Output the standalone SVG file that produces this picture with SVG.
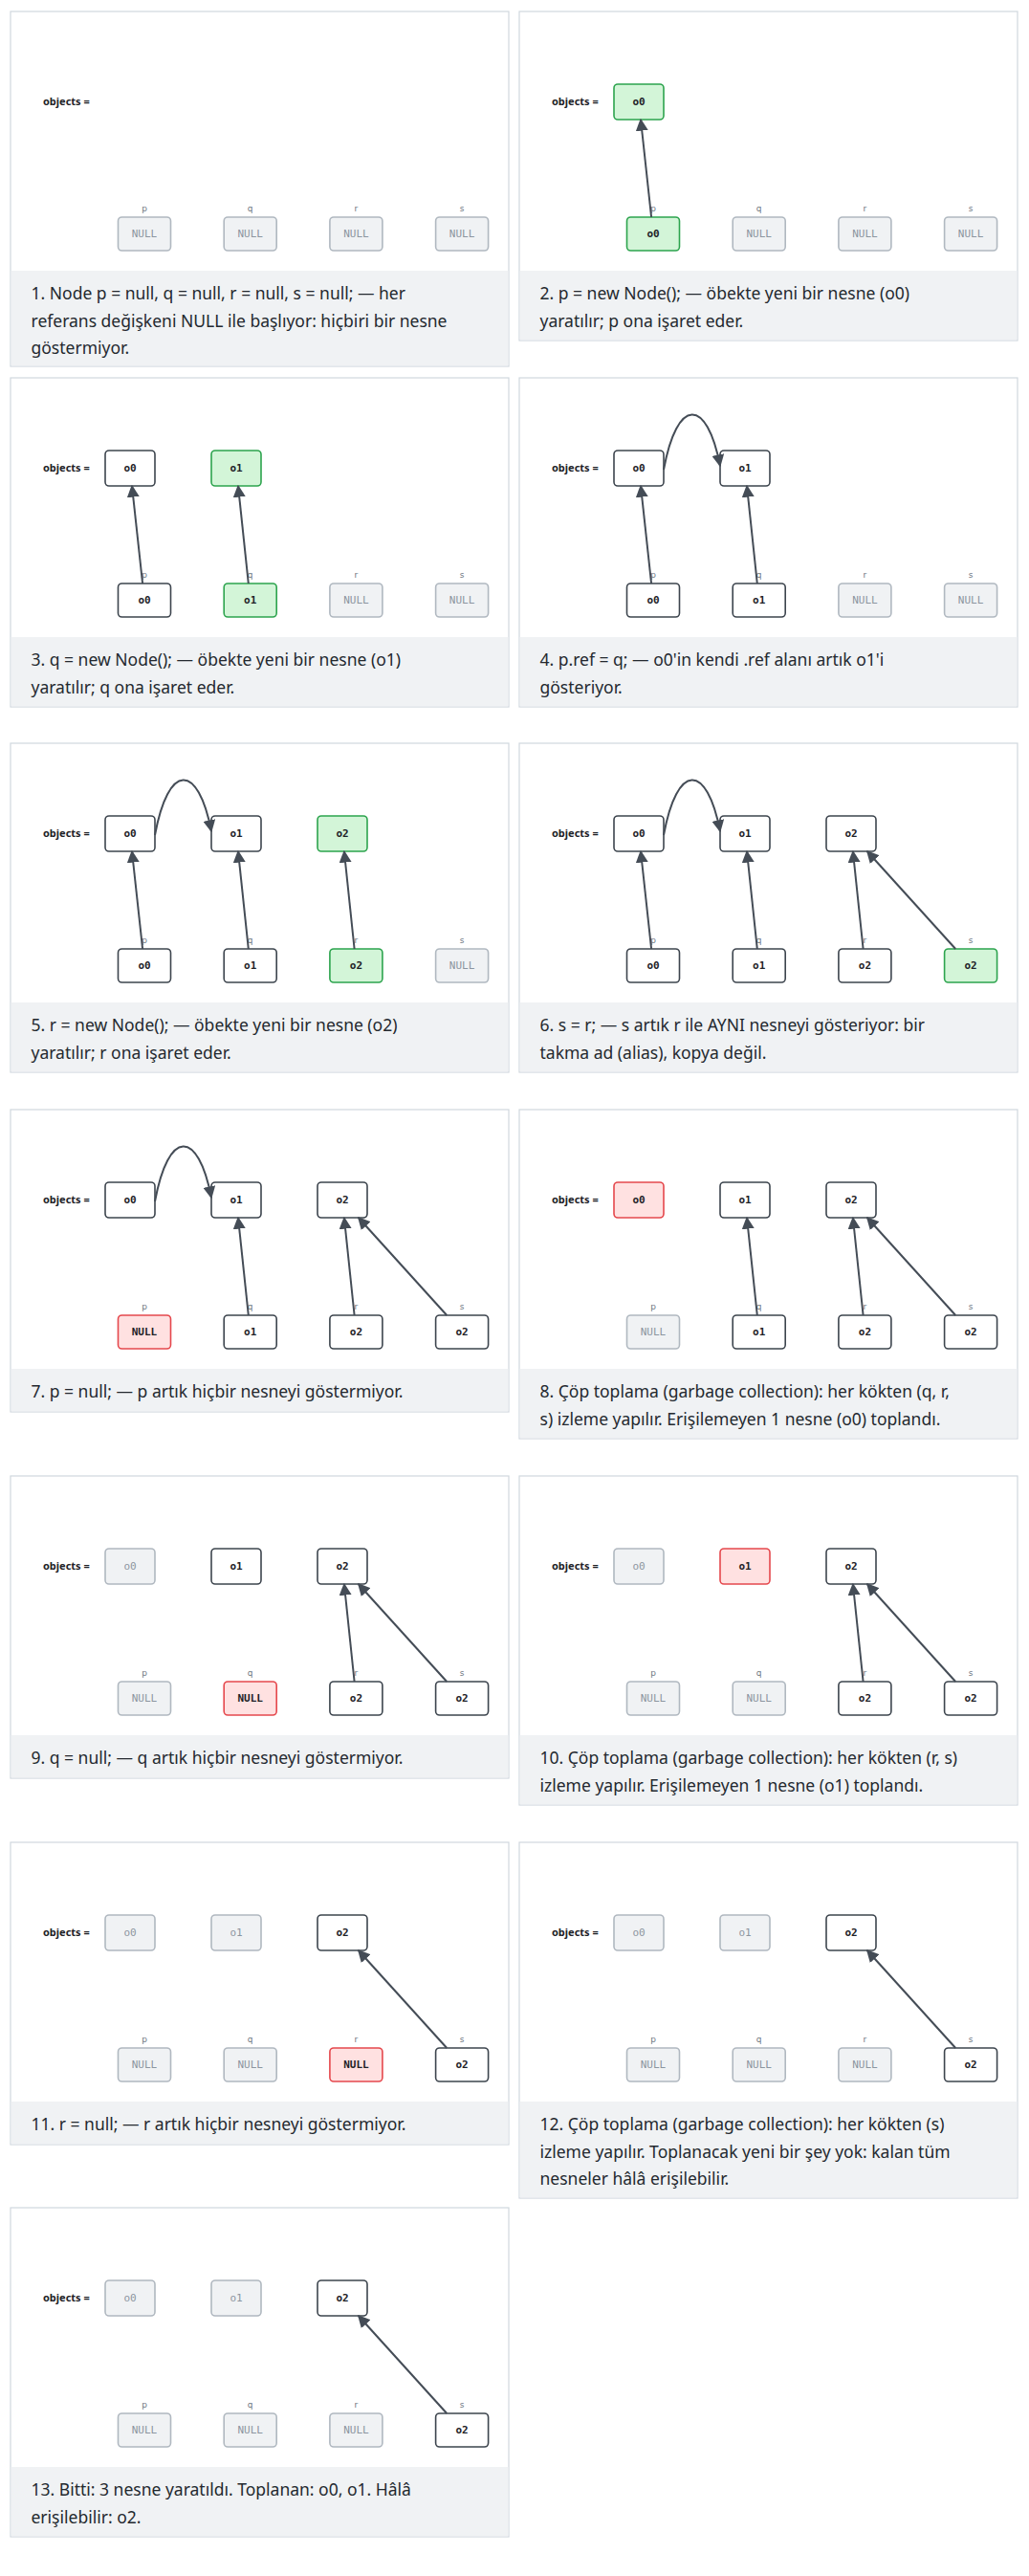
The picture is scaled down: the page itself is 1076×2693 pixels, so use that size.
<svg xmlns="http://www.w3.org/2000/svg" width="1076" height="2693" viewBox="0 0 1076 2693">
<style>
.pn{fill:#fff;stroke:#d0d7de;stroke-width:1.2}
.cap{fill:#f0f2f4}
.ct{font-family:"Noto Sans","Open Sans",sans-serif;font-size:17.5px;fill:#24292f}
.obj{font-family:"Noto Sans","DejaVu Sans",sans-serif;font-size:11px;font-weight:bold;fill:#1f2328}
.lb{font-family:"DejaVu Sans",sans-serif;font-size:9px;fill:#6e7781;text-anchor:middle}
.bx{fill:#fff;stroke:#3d454e;stroke-width:1.6}
.bn{fill:#d3f5d8;stroke:#2da44e;stroke-width:1.6}
.bd{fill:#ffe1e1;stroke:#e5484d;stroke-width:1.6}
.bg{fill:#f0f2f4;stroke:#b0b8c0;stroke-width:1.6}
.t{font-family:"DejaVu Sans Mono",monospace;font-size:11px;font-weight:bold;fill:#1f2328;text-anchor:middle}
.tg{font-family:"DejaVu Sans Mono",monospace;font-size:11px;fill:#8c959f;text-anchor:middle}
.ar{fill:none;stroke:#444c56;stroke-width:2;marker-end:url(#ah)}
</style>
<defs>
<marker id="ah" viewBox="0 0 10 10" refX="9" refY="5" markerWidth="13" markerHeight="13" markerUnits="userSpaceOnUse" orient="auto"><path d="M0,0L10,5L0,10z" fill="#444c56"/></marker>
</defs>

<g id="panel1" transform="translate(11,12)">
<rect class="pn" width="521" height="371"/><rect class="cap" x="0.6" y="271" width="519.8" height="99.4"/>
<text class="obj" x="34" y="98">objects =</text>
<g id="p1-p"><text class="lb" x="140" y="209">p</text><rect class="bg" x="112.5" y="215" width="55" height="35" rx="4"/><text class="tg" x="140" y="236">NULL</text></g>
<g id="p1-q"><text class="lb" x="250.7" y="209">q</text><rect class="bg" x="223.2" y="215" width="55" height="35" rx="4"/><text class="tg" x="250.7" y="236">NULL</text></g>
<g id="p1-r"><text class="lb" x="361.4" y="209">r</text><rect class="bg" x="333.9" y="215" width="55" height="35" rx="4"/><text class="tg" x="361.4" y="236">NULL</text></g>
<g id="p1-s"><text class="lb" x="472.1" y="209">s</text><rect class="bg" x="444.6" y="215" width="55" height="35" rx="4"/><text class="tg" x="472.1" y="236">NULL</text></g>
<text class="ct" x="21.5" y="301">1. Node p = null, q = null, r = null, s = null; — her</text>
<text class="ct" x="21.5" y="329.5">referans değişkeni NULL ile başlıyor: hiçbiri bir nesne</text>
<text class="ct" x="21.5" y="358">göstermiyor.</text>
</g>

<g id="panel2" transform="translate(543,12)">
<rect class="pn" width="521" height="344"/><rect class="cap" x="0.6" y="271" width="519.8" height="72.4"/>
<text class="obj" x="34" y="98">objects =</text>
<g id="p2-o0"><rect class="bn" x="99" y="76" width="52" height="37" rx="4"/><text class="t" x="125" y="98">o0</text></g>
<g id="p2-p"><text class="lb" x="140" y="209">p</text><rect class="bn" x="112.5" y="215" width="55" height="35" rx="4"/><text class="t" x="140" y="236">o0</text></g>
<g id="p2-q"><text class="lb" x="250.7" y="209">q</text><rect class="bg" x="223.2" y="215" width="55" height="35" rx="4"/><text class="tg" x="250.7" y="236">NULL</text></g>
<g id="p2-r"><text class="lb" x="361.4" y="209">r</text><rect class="bg" x="333.9" y="215" width="55" height="35" rx="4"/><text class="tg" x="361.4" y="236">NULL</text></g>
<g id="p2-s"><text class="lb" x="472.1" y="209">s</text><rect class="bg" x="444.6" y="215" width="55" height="35" rx="4"/><text class="tg" x="472.1" y="236">NULL</text></g>
<g id="p2-edges"><path class="ar" d="M138.1,215L127,113"/></g>
<text class="ct" x="21.5" y="301">2. p = new Node(); — öbekte yeni bir nesne (o0)</text>
<text class="ct" x="21.5" y="329.5">yaratılır; p ona işaret eder.</text>
</g>

<g id="panel3" transform="translate(11,395)">
<rect class="pn" width="521" height="344"/><rect class="cap" x="0.6" y="271" width="519.8" height="72.4"/>
<text class="obj" x="34" y="98">objects =</text>
<g id="p3-o0"><rect class="bx" x="99" y="76" width="52" height="37" rx="4"/><text class="t" x="125" y="98">o0</text></g>
<g id="p3-o1"><rect class="bn" x="210" y="76" width="52" height="37" rx="4"/><text class="t" x="236" y="98">o1</text></g>
<g id="p3-p"><text class="lb" x="140" y="209">p</text><rect class="bx" x="112.5" y="215" width="55" height="35" rx="4"/><text class="t" x="140" y="236">o0</text></g>
<g id="p3-q"><text class="lb" x="250.7" y="209">q</text><rect class="bn" x="223.2" y="215" width="55" height="35" rx="4"/><text class="t" x="250.7" y="236">o1</text></g>
<g id="p3-r"><text class="lb" x="361.4" y="209">r</text><rect class="bg" x="333.9" y="215" width="55" height="35" rx="4"/><text class="tg" x="361.4" y="236">NULL</text></g>
<g id="p3-s"><text class="lb" x="472.1" y="209">s</text><rect class="bg" x="444.6" y="215" width="55" height="35" rx="4"/><text class="tg" x="472.1" y="236">NULL</text></g>
<g id="p3-edges"><path class="ar" d="M138.1,215L127,113"/><path class="ar" d="M248.8,215L238,113"/></g>
<text class="ct" x="21.5" y="301">3. q = new Node(); — öbekte yeni bir nesne (o1)</text>
<text class="ct" x="21.5" y="329.5">yaratılır; q ona işaret eder.</text>
</g>

<g id="panel4" transform="translate(543,395)">
<rect class="pn" width="521" height="344"/><rect class="cap" x="0.6" y="271" width="519.8" height="72.4"/>
<text class="obj" x="34" y="98">objects =</text>
<g id="p4-o0"><rect class="bx" x="99" y="76" width="52" height="37" rx="4"/><text class="t" x="125" y="98">o0</text></g>
<g id="p4-o1"><rect class="bx" x="210" y="76" width="52" height="37" rx="4"/><text class="t" x="236" y="98">o1</text></g>
<g id="p4-p"><text class="lb" x="140" y="209">p</text><rect class="bx" x="112.5" y="215" width="55" height="35" rx="4"/><text class="t" x="140" y="236">o0</text></g>
<g id="p4-q"><text class="lb" x="250.7" y="209">q</text><rect class="bx" x="223.2" y="215" width="55" height="35" rx="4"/><text class="t" x="250.7" y="236">o1</text></g>
<g id="p4-r"><text class="lb" x="361.4" y="209">r</text><rect class="bg" x="333.9" y="215" width="55" height="35" rx="4"/><text class="tg" x="361.4" y="236">NULL</text></g>
<g id="p4-s"><text class="lb" x="472.1" y="209">s</text><rect class="bg" x="444.6" y="215" width="55" height="35" rx="4"/><text class="tg" x="472.1" y="236">NULL</text></g>
<g id="p4-edges"><path class="ar" d="M138.1,215L127,113"/><path class="ar" d="M248.8,215L238,113"/><path class="ar" d="M151,96C165,20 196,20 210,92"/></g>
<text class="ct" x="21.5" y="301">4. p.ref = q; — o0'in kendi .ref alanı artık o1'i</text>
<text class="ct" x="21.5" y="329.5">gösteriyor.</text>
</g>

<g id="panel5" transform="translate(11,777)">
<rect class="pn" width="521" height="344"/><rect class="cap" x="0.6" y="271" width="519.8" height="72.4"/>
<text class="obj" x="34" y="98">objects =</text>
<g id="p5-o0"><rect class="bx" x="99" y="76" width="52" height="37" rx="4"/><text class="t" x="125" y="98">o0</text></g>
<g id="p5-o1"><rect class="bx" x="210" y="76" width="52" height="37" rx="4"/><text class="t" x="236" y="98">o1</text></g>
<g id="p5-o2"><rect class="bn" x="321" y="76" width="52" height="37" rx="4"/><text class="t" x="347" y="98">o2</text></g>
<g id="p5-p"><text class="lb" x="140" y="209">p</text><rect class="bx" x="112.5" y="215" width="55" height="35" rx="4"/><text class="t" x="140" y="236">o0</text></g>
<g id="p5-q"><text class="lb" x="250.7" y="209">q</text><rect class="bx" x="223.2" y="215" width="55" height="35" rx="4"/><text class="t" x="250.7" y="236">o1</text></g>
<g id="p5-r"><text class="lb" x="361.4" y="209">r</text><rect class="bn" x="333.9" y="215" width="55" height="35" rx="4"/><text class="t" x="361.4" y="236">o2</text></g>
<g id="p5-s"><text class="lb" x="472.1" y="209">s</text><rect class="bg" x="444.6" y="215" width="55" height="35" rx="4"/><text class="tg" x="472.1" y="236">NULL</text></g>
<g id="p5-edges"><path class="ar" d="M138.1,215L127,113"/><path class="ar" d="M248.8,215L238,113"/><path class="ar" d="M359.6,215L348.9,113"/><path class="ar" d="M151,96C165,20 196,20 210,92"/></g>
<text class="ct" x="21.5" y="301">5. r = new Node(); — öbekte yeni bir nesne (o2)</text>
<text class="ct" x="21.5" y="329.5">yaratılır; r ona işaret eder.</text>
</g>

<g id="panel6" transform="translate(543,777)">
<rect class="pn" width="521" height="344"/><rect class="cap" x="0.6" y="271" width="519.8" height="72.4"/>
<text class="obj" x="34" y="98">objects =</text>
<g id="p6-o0"><rect class="bx" x="99" y="76" width="52" height="37" rx="4"/><text class="t" x="125" y="98">o0</text></g>
<g id="p6-o1"><rect class="bx" x="210" y="76" width="52" height="37" rx="4"/><text class="t" x="236" y="98">o1</text></g>
<g id="p6-o2"><rect class="bx" x="321" y="76" width="52" height="37" rx="4"/><text class="t" x="347" y="98">o2</text></g>
<g id="p6-p"><text class="lb" x="140" y="209">p</text><rect class="bx" x="112.5" y="215" width="55" height="35" rx="4"/><text class="t" x="140" y="236">o0</text></g>
<g id="p6-q"><text class="lb" x="250.7" y="209">q</text><rect class="bx" x="223.2" y="215" width="55" height="35" rx="4"/><text class="t" x="250.7" y="236">o1</text></g>
<g id="p6-r"><text class="lb" x="361.4" y="209">r</text><rect class="bx" x="333.9" y="215" width="55" height="35" rx="4"/><text class="t" x="361.4" y="236">o2</text></g>
<g id="p6-s"><text class="lb" x="472.1" y="209">s</text><rect class="bn" x="444.6" y="215" width="55" height="35" rx="4"/><text class="t" x="472.1" y="236">o2</text></g>
<g id="p6-edges"><path class="ar" d="M138.1,215L127,113"/><path class="ar" d="M248.8,215L238,113"/><path class="ar" d="M359.6,215L348.9,113"/><path class="ar" d="M456.2,215L363.8,113"/><path class="ar" d="M151,96C165,20 196,20 210,92"/></g>
<text class="ct" x="21.5" y="301">6. s = r; — s artık r ile AYNI nesneyi gösteriyor: bir</text>
<text class="ct" x="21.5" y="329.5">takma ad (alias), kopya değil.</text>
</g>

<g id="panel7" transform="translate(11,1160)">
<rect class="pn" width="521" height="316"/><rect class="cap" x="0.6" y="271" width="519.8" height="44.4"/>
<text class="obj" x="34" y="98">objects =</text>
<g id="p7-o0"><rect class="bx" x="99" y="76" width="52" height="37" rx="4"/><text class="t" x="125" y="98">o0</text></g>
<g id="p7-o1"><rect class="bx" x="210" y="76" width="52" height="37" rx="4"/><text class="t" x="236" y="98">o1</text></g>
<g id="p7-o2"><rect class="bx" x="321" y="76" width="52" height="37" rx="4"/><text class="t" x="347" y="98">o2</text></g>
<g id="p7-p"><text class="lb" x="140" y="209">p</text><rect class="bd" x="112.5" y="215" width="55" height="35" rx="4"/><text class="t" x="140" y="236">NULL</text></g>
<g id="p7-q"><text class="lb" x="250.7" y="209">q</text><rect class="bx" x="223.2" y="215" width="55" height="35" rx="4"/><text class="t" x="250.7" y="236">o1</text></g>
<g id="p7-r"><text class="lb" x="361.4" y="209">r</text><rect class="bx" x="333.9" y="215" width="55" height="35" rx="4"/><text class="t" x="361.4" y="236">o2</text></g>
<g id="p7-s"><text class="lb" x="472.1" y="209">s</text><rect class="bx" x="444.6" y="215" width="55" height="35" rx="4"/><text class="t" x="472.1" y="236">o2</text></g>
<g id="p7-edges"><path class="ar" d="M248.8,215L238,113"/><path class="ar" d="M359.6,215L348.9,113"/><path class="ar" d="M456.2,215L363.8,113"/><path class="ar" d="M151,96C165,20 196,20 210,92"/></g>
<text class="ct" x="21.5" y="301">7. p = null; — p artık hiçbir nesneyi göstermiyor.</text>
</g>

<g id="panel8" transform="translate(543,1160)">
<rect class="pn" width="521" height="344"/><rect class="cap" x="0.6" y="271" width="519.8" height="72.4"/>
<text class="obj" x="34" y="98">objects =</text>
<g id="p8-o0"><rect class="bd" x="99" y="76" width="52" height="37" rx="4"/><text class="t" x="125" y="98">o0</text></g>
<g id="p8-o1"><rect class="bx" x="210" y="76" width="52" height="37" rx="4"/><text class="t" x="236" y="98">o1</text></g>
<g id="p8-o2"><rect class="bx" x="321" y="76" width="52" height="37" rx="4"/><text class="t" x="347" y="98">o2</text></g>
<g id="p8-p"><text class="lb" x="140" y="209">p</text><rect class="bg" x="112.5" y="215" width="55" height="35" rx="4"/><text class="tg" x="140" y="236">NULL</text></g>
<g id="p8-q"><text class="lb" x="250.7" y="209">q</text><rect class="bx" x="223.2" y="215" width="55" height="35" rx="4"/><text class="t" x="250.7" y="236">o1</text></g>
<g id="p8-r"><text class="lb" x="361.4" y="209">r</text><rect class="bx" x="333.9" y="215" width="55" height="35" rx="4"/><text class="t" x="361.4" y="236">o2</text></g>
<g id="p8-s"><text class="lb" x="472.1" y="209">s</text><rect class="bx" x="444.6" y="215" width="55" height="35" rx="4"/><text class="t" x="472.1" y="236">o2</text></g>
<g id="p8-edges"><path class="ar" d="M248.8,215L238,113"/><path class="ar" d="M359.6,215L348.9,113"/><path class="ar" d="M456.2,215L363.8,113"/></g>
<text class="ct" x="21.5" y="301">8. Çöp toplama (garbage collection): her kökten (q, r,</text>
<text class="ct" x="21.5" y="329.5">s) izleme yapılır. Erişilemeyen 1 nesne (o0) toplandı.</text>
</g>

<g id="panel9" transform="translate(11,1543)">
<rect class="pn" width="521" height="316"/><rect class="cap" x="0.6" y="271" width="519.8" height="44.4"/>
<text class="obj" x="34" y="98">objects =</text>
<g id="p9-o0"><rect class="bg" x="99" y="76" width="52" height="37" rx="4"/><text class="tg" x="125" y="98">o0</text></g>
<g id="p9-o1"><rect class="bx" x="210" y="76" width="52" height="37" rx="4"/><text class="t" x="236" y="98">o1</text></g>
<g id="p9-o2"><rect class="bx" x="321" y="76" width="52" height="37" rx="4"/><text class="t" x="347" y="98">o2</text></g>
<g id="p9-p"><text class="lb" x="140" y="209">p</text><rect class="bg" x="112.5" y="215" width="55" height="35" rx="4"/><text class="tg" x="140" y="236">NULL</text></g>
<g id="p9-q"><text class="lb" x="250.7" y="209">q</text><rect class="bd" x="223.2" y="215" width="55" height="35" rx="4"/><text class="t" x="250.7" y="236">NULL</text></g>
<g id="p9-r"><text class="lb" x="361.4" y="209">r</text><rect class="bx" x="333.9" y="215" width="55" height="35" rx="4"/><text class="t" x="361.4" y="236">o2</text></g>
<g id="p9-s"><text class="lb" x="472.1" y="209">s</text><rect class="bx" x="444.6" y="215" width="55" height="35" rx="4"/><text class="t" x="472.1" y="236">o2</text></g>
<g id="p9-edges"><path class="ar" d="M359.6,215L348.9,113"/><path class="ar" d="M456.2,215L363.8,113"/></g>
<text class="ct" x="21.5" y="301">9. q = null; — q artık hiçbir nesneyi göstermiyor.</text>
</g>

<g id="panel10" transform="translate(543,1543)">
<rect class="pn" width="521" height="344"/><rect class="cap" x="0.6" y="271" width="519.8" height="72.4"/>
<text class="obj" x="34" y="98">objects =</text>
<g id="p10-o0"><rect class="bg" x="99" y="76" width="52" height="37" rx="4"/><text class="tg" x="125" y="98">o0</text></g>
<g id="p10-o1"><rect class="bd" x="210" y="76" width="52" height="37" rx="4"/><text class="t" x="236" y="98">o1</text></g>
<g id="p10-o2"><rect class="bx" x="321" y="76" width="52" height="37" rx="4"/><text class="t" x="347" y="98">o2</text></g>
<g id="p10-p"><text class="lb" x="140" y="209">p</text><rect class="bg" x="112.5" y="215" width="55" height="35" rx="4"/><text class="tg" x="140" y="236">NULL</text></g>
<g id="p10-q"><text class="lb" x="250.7" y="209">q</text><rect class="bg" x="223.2" y="215" width="55" height="35" rx="4"/><text class="tg" x="250.7" y="236">NULL</text></g>
<g id="p10-r"><text class="lb" x="361.4" y="209">r</text><rect class="bx" x="333.9" y="215" width="55" height="35" rx="4"/><text class="t" x="361.4" y="236">o2</text></g>
<g id="p10-s"><text class="lb" x="472.1" y="209">s</text><rect class="bx" x="444.6" y="215" width="55" height="35" rx="4"/><text class="t" x="472.1" y="236">o2</text></g>
<g id="p10-edges"><path class="ar" d="M359.6,215L348.9,113"/><path class="ar" d="M456.2,215L363.8,113"/></g>
<text class="ct" x="21.5" y="301">10. Çöp toplama (garbage collection): her kökten (r, s)</text>
<text class="ct" x="21.5" y="329.5">izleme yapılır. Erişilemeyen 1 nesne (o1) toplandı.</text>
</g>

<g id="panel11" transform="translate(11,1926)">
<rect class="pn" width="521" height="316"/><rect class="cap" x="0.6" y="271" width="519.8" height="44.4"/>
<text class="obj" x="34" y="98">objects =</text>
<g id="p11-o0"><rect class="bg" x="99" y="76" width="52" height="37" rx="4"/><text class="tg" x="125" y="98">o0</text></g>
<g id="p11-o1"><rect class="bg" x="210" y="76" width="52" height="37" rx="4"/><text class="tg" x="236" y="98">o1</text></g>
<g id="p11-o2"><rect class="bx" x="321" y="76" width="52" height="37" rx="4"/><text class="t" x="347" y="98">o2</text></g>
<g id="p11-p"><text class="lb" x="140" y="209">p</text><rect class="bg" x="112.5" y="215" width="55" height="35" rx="4"/><text class="tg" x="140" y="236">NULL</text></g>
<g id="p11-q"><text class="lb" x="250.7" y="209">q</text><rect class="bg" x="223.2" y="215" width="55" height="35" rx="4"/><text class="tg" x="250.7" y="236">NULL</text></g>
<g id="p11-r"><text class="lb" x="361.4" y="209">r</text><rect class="bd" x="333.9" y="215" width="55" height="35" rx="4"/><text class="t" x="361.4" y="236">NULL</text></g>
<g id="p11-s"><text class="lb" x="472.1" y="209">s</text><rect class="bx" x="444.6" y="215" width="55" height="35" rx="4"/><text class="t" x="472.1" y="236">o2</text></g>
<g id="p11-edges"><path class="ar" d="M456.2,215L363.8,113"/></g>
<text class="ct" x="21.5" y="301">11. r = null; — r artık hiçbir nesneyi göstermiyor.</text>
</g>

<g id="panel12" transform="translate(543,1926)">
<rect class="pn" width="521" height="372"/><rect class="cap" x="0.6" y="271" width="519.8" height="100.4"/>
<text class="obj" x="34" y="98">objects =</text>
<g id="p12-o0"><rect class="bg" x="99" y="76" width="52" height="37" rx="4"/><text class="tg" x="125" y="98">o0</text></g>
<g id="p12-o1"><rect class="bg" x="210" y="76" width="52" height="37" rx="4"/><text class="tg" x="236" y="98">o1</text></g>
<g id="p12-o2"><rect class="bx" x="321" y="76" width="52" height="37" rx="4"/><text class="t" x="347" y="98">o2</text></g>
<g id="p12-p"><text class="lb" x="140" y="209">p</text><rect class="bg" x="112.5" y="215" width="55" height="35" rx="4"/><text class="tg" x="140" y="236">NULL</text></g>
<g id="p12-q"><text class="lb" x="250.7" y="209">q</text><rect class="bg" x="223.2" y="215" width="55" height="35" rx="4"/><text class="tg" x="250.7" y="236">NULL</text></g>
<g id="p12-r"><text class="lb" x="361.4" y="209">r</text><rect class="bg" x="333.9" y="215" width="55" height="35" rx="4"/><text class="tg" x="361.4" y="236">NULL</text></g>
<g id="p12-s"><text class="lb" x="472.1" y="209">s</text><rect class="bx" x="444.6" y="215" width="55" height="35" rx="4"/><text class="t" x="472.1" y="236">o2</text></g>
<g id="p12-edges"><path class="ar" d="M456.2,215L363.8,113"/></g>
<text class="ct" x="21.5" y="301">12. Çöp toplama (garbage collection): her kökten (s)</text>
<text class="ct" x="21.5" y="329.5">izleme yapılır. Toplanacak yeni bir şey yok: kalan tüm</text>
<text class="ct" x="21.5" y="358">nesneler hâlâ erişilebilir.</text>
</g>

<g id="panel13" transform="translate(11,2308)">
<rect class="pn" width="521" height="344"/><rect class="cap" x="0.6" y="271" width="519.8" height="72.4"/>
<text class="obj" x="34" y="98">objects =</text>
<g id="p13-o0"><rect class="bg" x="99" y="76" width="52" height="37" rx="4"/><text class="tg" x="125" y="98">o0</text></g>
<g id="p13-o1"><rect class="bg" x="210" y="76" width="52" height="37" rx="4"/><text class="tg" x="236" y="98">o1</text></g>
<g id="p13-o2"><rect class="bx" x="321" y="76" width="52" height="37" rx="4"/><text class="t" x="347" y="98">o2</text></g>
<g id="p13-p"><text class="lb" x="140" y="209">p</text><rect class="bg" x="112.5" y="215" width="55" height="35" rx="4"/><text class="tg" x="140" y="236">NULL</text></g>
<g id="p13-q"><text class="lb" x="250.7" y="209">q</text><rect class="bg" x="223.2" y="215" width="55" height="35" rx="4"/><text class="tg" x="250.7" y="236">NULL</text></g>
<g id="p13-r"><text class="lb" x="361.4" y="209">r</text><rect class="bg" x="333.9" y="215" width="55" height="35" rx="4"/><text class="tg" x="361.4" y="236">NULL</text></g>
<g id="p13-s"><text class="lb" x="472.1" y="209">s</text><rect class="bx" x="444.6" y="215" width="55" height="35" rx="4"/><text class="t" x="472.1" y="236">o2</text></g>
<g id="p13-edges"><path class="ar" d="M456.2,215L363.8,113"/></g>
<text class="ct" x="21.5" y="301">13. Bitti: 3 nesne yaratıldı. Toplanan: o0, o1. Hâlâ</text>
<text class="ct" x="21.5" y="329.5">erişilebilir: o2.</text>
</g>
</svg>
